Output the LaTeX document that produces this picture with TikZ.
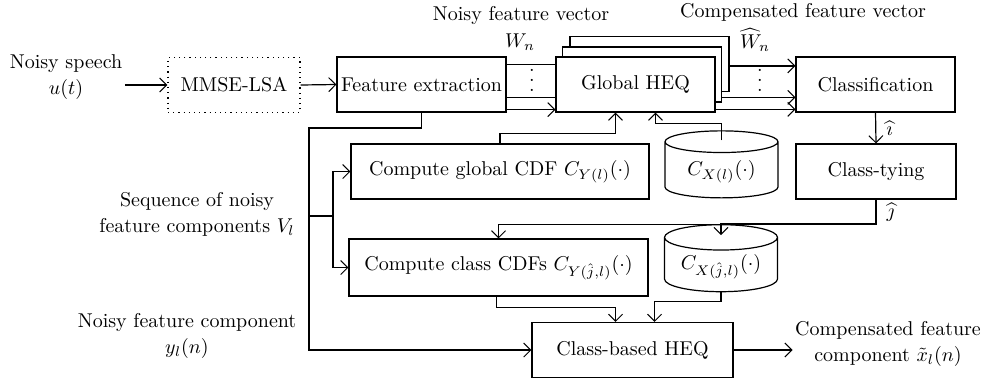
\documentclass[tikz,border=0pt]{standalone}
\usetikzlibrary{arrows.meta,shapes.geometric,calc}
\tikzset{%
    blk/.style={draw, rectangle, fill=white, minimum height=27.5pt, inner sep=1pt},
    dbk/.style={blk, dotted},
    cyl/.style={draw, cylinder, shape border rotate=90, aspect=0.3, minimum width=56.5pt, minimum height=33.5pt, inner sep=1pt},
    lbl/.style={align=center, inner sep=1pt},
    dts/.style={inner sep=0pt, align=center, font=\fontsize{10}{5}\selectfont}
}

\begin{document}
\begin{tikzpicture}[x=0.5pt,y=-0.5pt,line width=0.6pt,>={Straight Barb[length=3.5pt,width=7pt,line width=0.5pt]}]
    \useasboundingbox (0,0) rectangle (983,381);
    % top row
    \node[lbl] (sp) at (66,77) {Noisy speech\\[1pt]$u(t)$};
    \node[dbk, minimum width=66pt] (mm) at (234,85) {MMSE-LSA};
    \node[blk, minimum width=84.5pt] (fe) at (421.5,84.5) {Feature extraction};
    \node[blk, minimum width=79.5pt] (gh3) at (649.5,64) {};
    \node[blk, minimum width=79.5pt] (gh2) at (642,74.5) {};
    \node[blk, minimum width=79.5pt] (gh) at (635.5,84.5) {Global HEQ};
    \node[blk, minimum width=79.5pt] (cl) at (875.5,84.5) {Classification};
    \node[lbl] (nv) at (521,15) {Noisy feature vector};
    \node[lbl] (wn) at (520,42) {$W_n$};
    \node[lbl] (cv) at (803,12) {Compensated feature vector};
    \node[lbl] (hw) at (755,40) {$\widehat{W}_n$};
    \node[dts] (d1) at (532,80) {.\\.\\.};
    \node[dts] (d2) at (760,80) {.\\.\\.};
    % middle rows
    \node[blk, minimum width=149pt] (cg) at (500,171.5) {Compute global CDF $C_{Y(l)}(\cdot)$};
    \node[cyl] (cx1) at (721.5,171.5) {$C_{X(l)}(\cdot)$};
    \node[blk, minimum width=80pt] (ct) at (876,171.5) {Class-tying};
    \node[blk, minimum width=149.5pt, minimum height=28.5pt] (cc) at (498.5,267.5) {Compute class CDFs $C_{Y(\hat{j},l)}(\cdot)$};
    \node[cyl] (cx2) at (721,266.5) {$C_{X(\hat{j},l)}(\cdot)$};
    \node[blk, minimum width=100.5pt] (cb) at (632.5,350) {Class-based HEQ};
    % left and right labels
    \node[lbl] (sq) at (197,214) {Sequence of noisy\\[1pt]feature components $V_l$};
    \node[lbl] (ny) at (187,336) {Noisy feature component\\[1pt]$y_l(n)$};
    \node[lbl] (out) at (888,344) {Compensated feature\\[1pt]component $\tilde{x}_l(n)$};
    \coordinate (jt) at (309,216);
    % connectors
    \draw[->] (sp.east |- mm.west) -- (mm.west);
    \draw[->] (mm.east) -- (fe.west);
    \draw ($(fe.north east)+(0,8)$) -- ($(gh.north west)+(0,8)$);
    \draw ($(fe.south east)+(0,-15)$) -- ($(gh.south west)+(0,-15)$);
    \draw[->] ($(fe.south east)+(0,-3)$) -- ($(gh.south west)+(0,-3)$);
    \draw[->] ($(gh3.north east)+(0,30)$) coordinate (o1) -- (o1 -| cl.west);
    \draw[->] ($(gh2.north east)+(0,51)$) coordinate (o2) -- (o2 -| cl.west);
    \draw[->] ($(gh.north east)+(0,53)$) coordinate (o3) -- (o3 -| cl.west);
    \draw[->] (cl.south) -- (ct.north) node[midway, right, inner sep=5pt] {$\widehat{\imath}$};
    \draw[->] (ct.south) -- ++(0,25) node[midway, right, inner sep=5pt] {$\widehat{\jmath}$} -| (cc.north);
    \draw[->] (ct.south |- 0,224) -| ($(cx2.north)+(0,11)$);
    \draw[->] (cg.north) -- ++(0,-10) -| ($(gh.south)+(-20,0)$);
    \draw[->] ($(cx1.north)+(0,10)$) -- ++(0,-17) -| ($(gh.south)+(20,0)$);
    \draw[->] (fe.south) |- ($(jt)+(0,-88)$) -- (jt |- cb.west) -- (cb.west);
    \draw[->] (jt) -- ++(24,0) |- (cg.west);
    \draw[->] (jt) ++(24,0) |- (cc.west);
    \draw[->] ($(cc.south)+(-2,0)$) -- ++(0,11) -| ($(cb.north)+(-17,0)$);
    \draw[->] (cx2.south) -- ++(0,9) -| ($(cb.north)+(22,0)$);
    \draw[->] (cb.east) -- (out.west |- cb.east);
\end{tikzpicture}
\end{document}
